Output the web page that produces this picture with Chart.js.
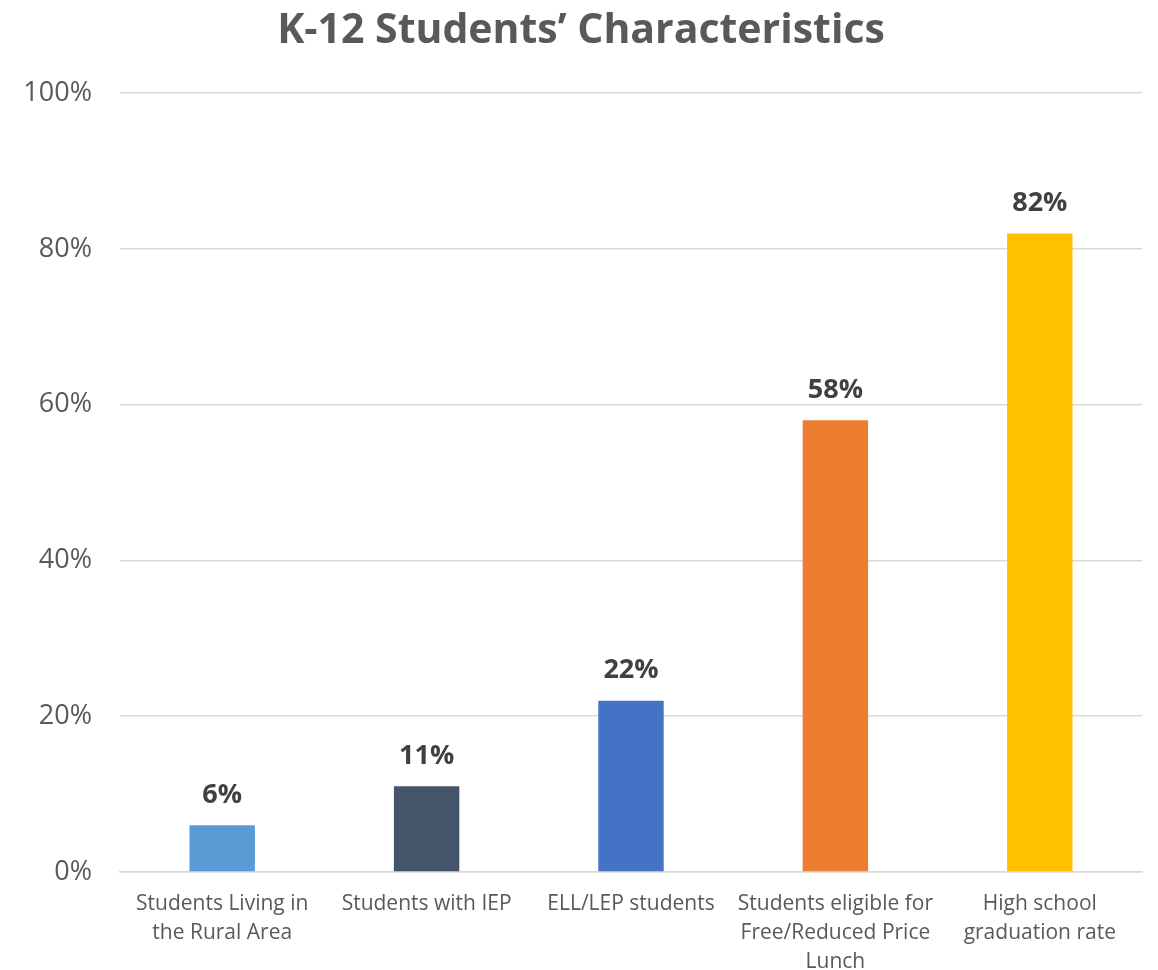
<!DOCTYPE html>
<html>
<head>
<meta charset="utf-8">
<script src="https://cdn.jsdelivr.net/npm/chart.js@4"></script>
<style>
  html, body { margin: 0; padding: 0; background: #fff; }
  #wrap { width: 1158px; height: 970px; }
</style>
</head>
<body>
<div id="wrap"><canvas id="myBar"></canvas></div>
<script>
var categories = [
    ['Students Living in', 'the Rural Area'],
    'Students with IEP',
    'ELL/LEP students',
    ['Students eligible for', 'Free/Reduced Price', 'Lunch'],
    ['High school', 'graduation rate']
];
var values = [6, 11, 22, 58, 82];
var barColors = ['#5B9BD5', '#44546A', '#4472C4', '#ED7D31', '#FFC000'];
var tickValues = [0, 20, 40, 60, 80, 100];

var fontFamily = "'Open Sans', 'Noto Sans', sans-serif";

// draws the value above each bar
var valueLabels = {
    id: 'valueLabels',
    afterDatasetsDraw: function (chart) {
        var ctx = chart.ctx;
        var meta = chart.getDatasetMeta(0);
        ctx.save();
        ctx.font = 'bold 27px ' + fontFamily;
        ctx.fillStyle = '#404040';
        ctx.textAlign = 'center';
        ctx.textBaseline = 'middle';
        meta.data.forEach(function (bar, i) {
            ctx.fillText(values[i] + '%', bar.x, bar.y - 30);
        });
        ctx.restore();
    }
};

var ctx = document.getElementById('myBar').getContext('2d');
var chart = new Chart(ctx, {
    type: 'bar',
    data: {
        labels: categories,
        datasets: [{
            data: values,
            backgroundColor: barColors,
            barPercentage: 0.64,
            categoryPercentage: 0.5
        }]
    },
    options: {
        responsive: true,
        maintainAspectRatio: false,
        animation: false,
        layout: { padding: { left: 20, right: 16, top: 0, bottom: 0 } },
        plugins: {
            legend: { display: false },
            tooltip: { enabled: false },
            title: {
                display: true,
                text: 'K-12 Students\u2019 Characteristics',
                color: '#595959',
                font: { family: fontFamily, size: 41, weight: 'bold', lineHeight: 1.2 },
                padding: { top: 7, bottom: 37 }
            }
        },
        scales: {
            y: {
                min: 0,
                max: 100,
                afterBuildTicks: function (axis) {
                    axis.ticks = tickValues.map(function (v) { return { value: v }; });
                },
                afterFit: function (axis) { axis.width = 100; },
                ticks: {
                    callback: function (v) { return v + '%'; },
                    color: '#595959',
                    font: { family: fontFamily, size: 27 },
                    padding: 28
                },
                grid: { color: '#d9d9d9', lineWidth: 1.5, drawTicks: false },
                border: { display: false }
            },
            x: {
                afterFit: function (axis) { axis.height = 98; },
                ticks: {
                    color: '#595959',
                    font: { family: fontFamily, size: 21, lineHeight: 1.38 },
                    padding: 18,
                    maxRotation: 0
                },
                grid: { display: false, drawTicks: false },
                border: { color: '#d9d9d9', width: 1.5 }
            }
        }
    },
    plugins: [valueLabels]
});
</script>
</body>
</html>
